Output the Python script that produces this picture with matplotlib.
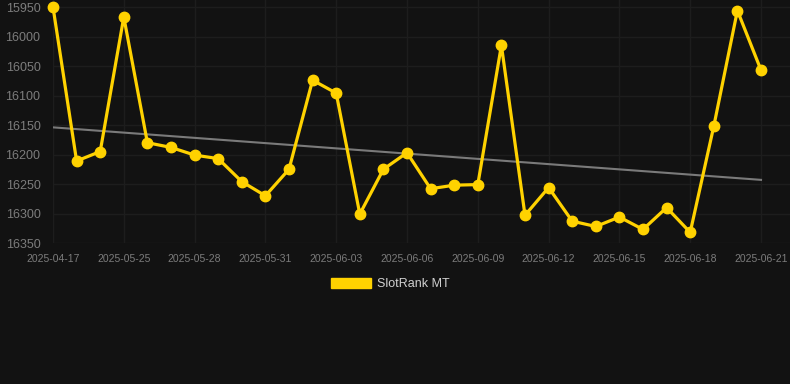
import matplotlib
matplotlib.use("Agg")
import matplotlib.pyplot as plt
from matplotlib.patches import Patch

dates = ["2025-04-17", "2025-05-23", "2025-05-24", "2025-05-25", "2025-05-26", "2025-05-27",
         "2025-05-28", "2025-05-29", "2025-05-30", "2025-05-31", "2025-06-01", "2025-06-02",
         "2025-06-03", "2025-06-04", "2025-06-05", "2025-06-06", "2025-06-07", "2025-06-08",
         "2025-06-09", "2025-06-10", "2025-06-11", "2025-06-12", "2025-06-13", "2025-06-14",
         "2025-06-15", "2025-06-16", "2025-06-17", "2025-06-18", "2025-06-19", "2025-06-20",
         "2025-06-21"]
rank = [15950, 16211, 16195, 15967, 16180, 16188, 16201, 16207, 16246, 16270, 16225,
        16074, 16096, 16301, 16225, 16197, 16258, 16252, 16251, 16015, 16303, 16256,
        16313, 16322, 16306, 16327, 16290, 16332, 16152, 15956, 16057]
trend_ends = [16154, 16243]
yticks = [15950, 16000, 16050, 16100, 16150, 16200, 16250, 16300, 16350]
series_name = "SlotRank MT"

plt.rcParams['font.family'] = ['Liberation Sans', 'DejaVu Sans']
bg = "#121212"
gold = "#FFD200"

fig = plt.figure(figsize=(7.9, 3.84), dpi=100, facecolor=bg)
ax = fig.add_axes([53/790, 1 - 243/384, (790-53)/790, 243/384])
ax.set_facecolor(bg)

x = list(range(len(dates)))
ax.plot([x[0], x[-1]], trend_ends, color="#7a7a7a", lw=1.5, zorder=2)
ax.plot(x, rank, color=gold, lw=2.3, marker="o", ms=7.5, zorder=3,
        solid_joinstyle="miter", clip_on=False)

step = 23.6
ax.set_xlim(0, (790 - 53) / step)
ax.set_ylim(16350, 15950 - 7 / 0.59)

ax.set_yticks(yticks)
ax.set_yticklabels([str(v) for v in yticks])
ax.set_xticks(x[::3])
ax.set_xticklabels(dates[::3])

ax.grid(True, color="#1d1d1d", lw=1)
ax.set_axisbelow(True)
for s in ax.spines.values():
    s.set_visible(False)
ax.tick_params(axis="y", length=0, pad=9, labelsize=9, labelcolor="#7c7c7c")
ax.tick_params(axis="x", length=0, pad=8, labelsize=7.5, labelcolor="#7c7c7c")

fig.legend(handles=[Patch(facecolor=gold, edgecolor=gold)], labels=[series_name],
           loc="center", bbox_to_anchor=(390/790, 1 - 284/384), frameon=False,
           fontsize=9, labelcolor="#d0d0d0", handlelength=3.2, handleheight=0.9,
           handletextpad=0.5)

fig.savefig("out.png", dpi=100, facecolor=bg)
